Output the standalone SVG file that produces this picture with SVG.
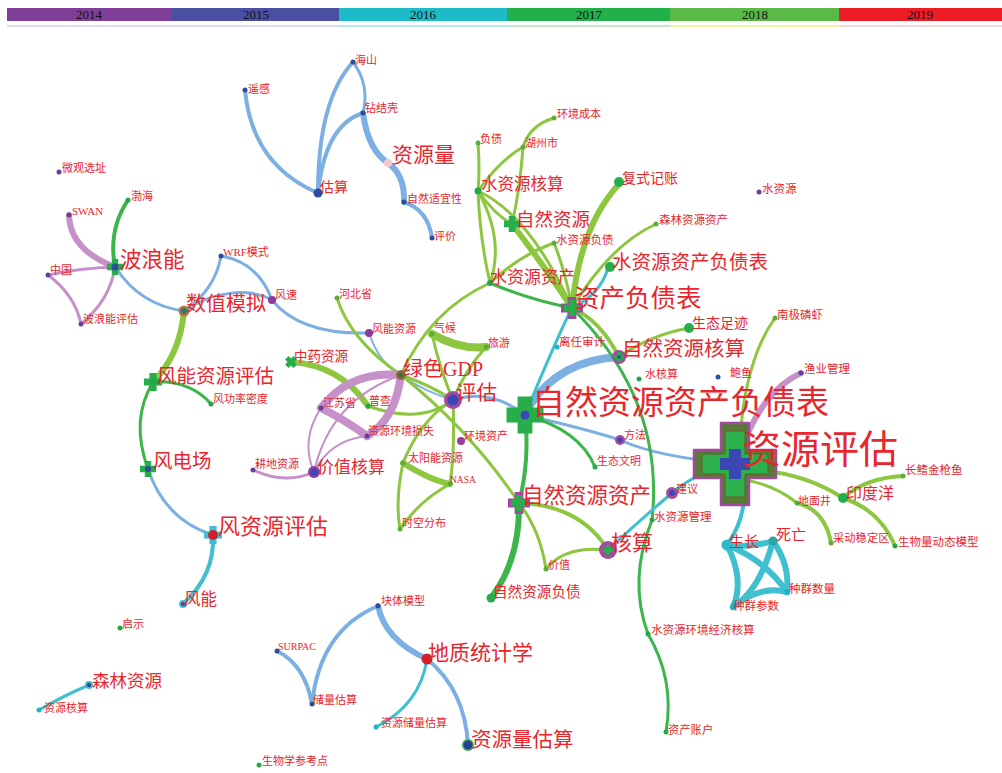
<svg xmlns="http://www.w3.org/2000/svg" xmlns:xlink="http://www.w3.org/1999/xlink" width="1002" height="773" viewBox="0 0 1002 773">
<style>
.t{font-family:"Liberation Serif","Noto Sans CJK SC",serif;fill:#e8262d}
.yr{font-family:"Liberation Serif",serif;font-size:13px;fill:#111;text-anchor:middle}
.e{fill:none;stroke-linecap:round}
.pu{stroke:#c690c9}.bl{stroke:#7db0e2}.cy{stroke:#40bfd0}.gr{stroke:#3cb54a}.lg{stroke:#8dc63f}
.w2{stroke-width:2}.w3{stroke-width:3}.w4{stroke-width:4}.w6{stroke-width:6}.w8{stroke-width:8}
.dp{fill:#6b3d9a}.db{fill:#2f4ba0}.dc{fill:#1fb5c5}.dg{fill:#22a84a}.dl{fill:#5aae3c}
</style>
<defs>
<path id="plus" d="M-0.4,-1H0.4V-0.4H1V0.4H0.4V1H-0.4V0.4H-1V-0.4H-0.4Z"/>
</defs>
<rect width="1002" height="773" fill="#fff"/>
<g id="timeline">
<rect x="7" y="8" width="165" height="13" fill="#7f3f98"/>
<rect x="172" y="8" width="167" height="13" fill="#4a4fa1"/>
<rect x="339" y="8" width="168" height="13" fill="#1fbac8"/>
<rect x="507" y="8" width="163" height="13" fill="#22b04b"/>
<rect x="670" y="8" width="169" height="13" fill="#5ab947"/>
<rect x="839" y="8" width="163" height="13" fill="#ee1c25"/>
<rect x="7" y="25" width="165" height="2" fill="#e6d8ee"/>
<rect x="172" y="25" width="167" height="2" fill="#dcdcf0"/>
<rect x="339" y="25" width="168" height="2" fill="#b6e8ef"/>
<rect x="507" y="25" width="163" height="2" fill="#c8e6cc"/>
<rect x="670" y="25" width="169" height="2" fill="#eef3a8"/>
<rect x="839" y="25" width="163" height="2" fill="#f9d6d6"/>
<text class="yr" x="89" y="19">2014</text>
<text class="yr" x="256" y="19">2015</text>
<text class="yr" x="423" y="19">2016</text>
<text class="yr" x="589" y="19">2017</text>
<text class="yr" x="755" y="19">2018</text>
<text class="yr" x="920" y="19">2019</text>
</g>
<g id="connectors">
<path class="e bl w4" d="M245,90 Q252,165 318,193"/>
<path class="e bl w4" d="M353,62 Q318,100 318,193"/>
<path class="e bl w3" d="M353,62 Q370,85 363,113"/>
<path class="e bl w4" d="M363,113 Q325,125 318,193"/>
<path class="e bl w6" d="M363,113 Q368,150 388,163"/>
<path class="e bl w6" d="M388,163 Q405,175 404,202"/>
<path class="e bl w4" d="M404,202 Q428,210 432,238"/>
<path class="e bl w3" d="M116,268 Q140,305 184,311"/>
<path class="e bl w3" d="M221,256 Q215,290 184,311"/>
<path class="e bl w3" d="M221,256 Q258,262 272,300"/>
<path class="e bl w3" d="M184,311 C215,290 250,288 272,300"/>
<path class="e bl w3" d="M272,300 Q300,335 369,333"/>
<path class="e bl w2" d="M369,333 Q380,365 401,375 Q425,392 453,400"/>
<path class="e bl w3" d="M453,400 Q490,388 525,415"/>
<path class="e bl w3" d="M525,415 Q590,430 620,440 Q660,458 733,463"/>
<path class="e bl w8" d="M619,357 Q560,360 530,405"/>
<path class="e cy w3" d="M572,308 Q558,335 525,415"/>
<path class="e cy w3" d="M608,268 Q600,295 572,308"/>
<path class="e lg w3" d="M478,143 Q480,170 478,191"/>
<path class="e lg w3" d="M523,147 Q530,125 554,118"/>
<path class="e lg w3" d="M523,147 Q500,160 478,191"/>
<path class="e lg w3" d="M523,147 Q520,190 512,224"/>
<path class="e lg w3" d="M478,191 Q495,215 512,224"/>
<path class="e lg w3" d="M478,191 Q530,215 572,308"/>
<path class="e lg w3" d="M478,191 Q480,240 490,283"/>
<path class="e lg w3" d="M478,191 Q505,240 490,283"/>
<path class="e lg w6" d="M512,224 Q540,260 572,308"/>
<path class="e lg w3" d="M554,243 Q520,255 490,283"/>
<path class="e lg w3" d="M554,243 Q565,270 572,308"/>
<path class="e lg w6" d="M620,183 Q580,225 572,308"/>
<path class="e lg w3" d="M656,224 Q610,245 572,308"/>
<path class="e gr w3" d="M490,283 Q530,300 572,308"/>
<path class="e lg w3" d="M490,283 Q430,310 401,375"/>
<path class="e gr w3" d="M572,308 Q665,400 652,520"/>
<path class="e gr w3" d="M652,520 Q628,580 648,634"/>
<path class="e gr w3" d="M648,634 Q675,680 666,732"/>
<path class="e lg w4" d="M572,308 Q600,320 619,357"/>
<path class="e lg w3" d="M619,357 Q650,335 689,328"/>
<path class="e lg w3" d="M740,440 Q745,360 775,318"/>
<path class="e pu w6" d="M745,440 Q765,390 801,373"/>
<path class="e cy w3" d="M608,550 Q640,520 672,493"/>
<path class="e cy w3" d="M672,493 Q700,470 733,463"/>
<path class="e cy w4" d="M740,470 Q752,510 727,545"/>
<path class="e cy w6" d="M727,545 Q750,548 773,541"/>
<path class="e cy w6" d="M727,545 Q765,560 787,592"/>
<path class="e cy w6" d="M727,545 Q745,580 733,607"/>
<path class="e cy w6" d="M773,541 Q790,565 787,592"/>
<path class="e cy w6" d="M773,541 Q760,590 733,607"/>
<path class="e cy w6" d="M733,607 Q760,585 787,592"/>
<path class="e lg w4" d="M745,470 Q800,470 843,498"/>
<path class="e lg w4" d="M843,498 Q865,478 903,476"/>
<path class="e lg w4" d="M843,498 Q880,510 895,546"/>
<path class="e lg w3" d="M745,480 Q775,485 797,503"/>
<path class="e lg w4" d="M797,503 Q825,510 831,543"/>
<path class="e lg w3" d="M337,298 Q350,340 401,375"/>
<path class="e lg w8" d="M432,334 Q460,350 486,347"/>
<path class="e lg w3" d="M432,334 Q440,370 453,400"/>
<path class="e lg w3" d="M486,347 Q465,370 453,400"/>
<path class="e lg w6" d="M291,362 Q340,365 368,406"/>
<path class="e lg w3" d="M368,406 Q420,425 453,400"/>
<path class="e lg w3" d="M401,375 Q430,385 453,400"/>
<path class="e lg w3" d="M401,375 Q470,430 519,503"/>
<path class="e lg w3" d="M453,400 Q420,420 403,463"/>
<path class="e lg w6" d="M403,463 Q430,480 450,484"/>
<path class="e lg w3" d="M403,463 Q395,500 400,529"/>
<path class="e lg w3" d="M450,484 Q420,500 400,529"/>
<path class="e lg w3" d="M453,400 Q455,450 450,484"/>
<path class="e pu w8" d="M401,375 Q350,370 321,408"/>
<path class="e pu w8" d="M401,375 Q395,420 367,436"/>
<path class="e pu w8" d="M321,408 Q345,420 367,436"/>
<path class="e pu w2" d="M321,408 Q300,440 314,472"/>
<path class="e pu w2" d="M401,375 Q330,400 314,472"/>
<path class="e pu w2" d="M367,436 Q330,440 314,472"/>
<path class="e pu w3" d="M253,470 Q285,485 314,472"/>
<path class="e pu w6" d="M69,215 Q70,250 115,267"/>
<path class="e pu w3" d="M48,275 Q80,268 115,267"/>
<path class="e pu w3" d="M48,275 Q75,295 81,324"/>
<path class="e pu w3" d="M81,324 Q110,300 115,267"/>
<path class="e gr w4" d="M128,200 Q108,230 115,267"/>
<path class="e lg w6" d="M184,311 Q180,355 153,382"/>
<path class="e gr w3" d="M153,382 Q190,380 211,404"/>
<path class="e gr w3" d="M153,382 Q130,420 148,469"/>
<path class="e bl w3" d="M148,469 Q165,520 213,535"/>
<path class="e cy w4" d="M213,535 Q215,575 183,604"/>
<path class="e cy w3" d="M89,685 Q65,695 39,710"/>
<path class="e bl w4" d="M378,606 Q320,630 312,704"/>
<path class="e bl w4" d="M277,651 Q305,665 312,704"/>
<path class="e bl w6" d="M378,606 Q385,640 427,659"/>
<path class="e cy w3" d="M427,659 Q420,705 376,727"/>
<path class="e bl w4" d="M427,659 Q465,690 468,745"/>
<path class="e gr w3" d="M525,415 Q580,430 595,467"/>
<path class="e gr w4" d="M525,415 Q530,460 519,503"/>
<path class="e gr w6" d="M519,503 Q520,560 491,598"/>
<path class="e lg w3" d="M519,503 Q540,530 546,569"/>
<path class="e lg w3" d="M546,569 Q565,545 608,550"/>
<path class="e lg w4" d="M519,503 Q580,505 608,550"/>
</g>
<g id="n-yaogan"><circle class="db" cx="245" cy="90" r="2.5"/><text class="t" x="248" y="93" font-size="11">遥感</text></g>
<g id="n-haishan"><circle class="db" cx="353" cy="62" r="2.5"/><text class="t" x="355" y="64" font-size="11">海山</text></g>
<g id="n-zuanjieke"><circle class="db" cx="363" cy="113" r="2.5"/><text class="t" x="365" y="112" font-size="11">钻结壳</text></g>
<g id="n-ziyuanliang"><circle cx="388" cy="163" r="4" fill="#f4c6cc"/><text class="t" x="392" y="162" font-size="21">资源量</text></g>
<g id="n-gusuan"><circle class="db" cx="318" cy="193" r="4.5"/><text class="t" x="320" y="192" font-size="14">估算</text></g>
<g id="n-shiyixing"><circle class="db" cx="404" cy="202" r="2.5"/><text class="t" x="407" y="203" font-size="11">自然适宜性</text></g>
<g id="n-pingjia"><circle class="db" cx="432" cy="238" r="2.5"/><text class="t" x="434" y="240" font-size="11">评价</text></g>
<g id="n-weiguan"><circle class="dp" cx="59" cy="172" r="2.5"/><text class="t" x="62" y="172" font-size="11">微观选址</text></g>
<g id="n-bohai"><circle class="dg" cx="128" cy="200" r="2.5"/><text class="t" x="131" y="200" font-size="11">渤海</text></g>
<g id="n-swan"><circle class="dp" cx="69" cy="215" r="2.5"/><text class="t" x="72" y="215" font-size="11">SWAN</text></g>
<g id="n-bolangneng"><use href="#plus" transform="translate(115,267) scale(8)" fill="#27ad4a"/><circle class="db" cx="115" cy="267" r="3.5"/><text class="t" x="120" y="267" font-size="21.5">波浪能</text></g>
<g id="n-zhongguo"><circle class="dp" cx="48" cy="275" r="2.5"/><text class="t" x="50" y="274" font-size="11">中国</text></g>
<g id="n-blnpg"><circle class="dp" cx="81" cy="324" r="2.5"/><text class="t" x="83" y="323" font-size="11">波浪能评估</text></g>
<g id="n-wrf"><circle class="db" cx="221" cy="256" r="2.5"/><text class="t" x="223" y="256" font-size="11">WRF模式</text></g>
<g id="n-shuzhi"><circle cx="184" cy="311" r="5.5" fill="#b07a3a"/><circle cx="184" cy="311" r="3" fill="#2a7a7a"/><text class="t" x="186" y="311" font-size="20">数值模拟</text></g>
<g id="n-fengsu"><circle cx="272" cy="300" r="4" fill="#8a3d9a"/><text class="t" x="275" y="299" font-size="11">风速</text></g>
<g id="n-hebei"><circle class="dl" cx="337" cy="298" r="2.5"/><text class="t" x="339" y="298" font-size="11">河北省</text></g>
<g id="n-fnzy"><circle cx="369" cy="333" r="4" fill="#8a3d9a"/><text class="t" x="372" y="333" font-size="11">风能资源</text></g>
<g id="n-zhongyao"><use href="#plus" transform="translate(291,362) scale(6) rotate(45)" fill="#27ad4a"/><text class="t" x="294" y="361" font-size="13.5">中药资源</text></g>
<g id="n-qihou"><circle class="dl" cx="432" cy="334" r="2.5"/><text class="t" x="434" y="332" font-size="11">气候</text></g>
<g id="n-lvyou"><circle class="dl" cx="486" cy="347" r="2.5"/><text class="t" x="488" y="347" font-size="11">旅游</text></g>
<g id="n-lvsegdp"><circle cx="401" cy="375" r="5" fill="#8a6a3a"/><circle cx="401" cy="375" r="2.5" fill="#3a6e3a"/><text class="t" x="403" y="376" font-size="20">绿色GDP</text></g>
<g id="n-pinggu"><circle cx="453" cy="400" r="9" fill="#a24a9e"/><circle cx="453" cy="400" r="5.5" fill="#3a47b5"/><text class="t" x="456" y="400" font-size="20.5">评估</text></g>
<g id="n-jiangsu"><circle class="dp" cx="321" cy="408" r="2.5"/><text class="t" x="323" y="407" font-size="11">江苏省</text></g>
<g id="n-pucha"><circle class="dg" cx="368" cy="406" r="2.5"/><text class="t" x="369" y="405" font-size="11">普查</text></g>
<g id="n-sunshi"><circle class="dp" cx="367" cy="436" r="2.5"/><text class="t" x="368" y="435" font-size="11">资源环境损失</text></g>
<g id="n-hjzc"><circle cx="461" cy="441" r="4" fill="#9a3d9a"/><text class="t" x="464" y="440" font-size="11">环境资产</text></g>
<g id="n-gengdi"><circle class="dp" cx="253" cy="470" r="2.5"/><text class="t" x="255" y="468" font-size="11">耕地资源</text></g>
<g id="n-jiazhihs"><circle cx="314" cy="472" r="6" fill="#8a3d9a"/><circle cx="314" cy="472" r="3.5" fill="#3a47b5"/><text class="t" x="317" y="473" font-size="17">价值核算</text></g>
<g id="n-taiyang"><circle class="dl" cx="403" cy="463" r="2.5"/><text class="t" x="408" y="462" font-size="11">太阳能资源</text></g>
<g id="n-nasa"><circle class="dl" cx="450" cy="484" r="2.5"/><text class="t" x="450" y="483" font-size="9.5">NASA</text></g>
<g id="n-shikong"><circle class="dl" cx="400" cy="529" r="2.5"/><text class="t" x="402" y="527" font-size="11">时空分布</text></g>
<g id="n-fnzypg"><use href="#plus" transform="translate(153,382) scale(9)" fill="#27ad4a"/><circle class="dg" cx="153" cy="382" r="3"/><text class="t" x="157" y="383" font-size="19.5">风能资源评估</text></g>
<g id="n-fglmd"><circle class="dg" cx="211" cy="404" r="2.5"/><text class="t" x="213" y="403" font-size="11">风功率密度</text></g>
<g id="n-fengdian"><use href="#plus" transform="translate(148,469) scale(8)" fill="#27ad4a"/><circle class="db" cx="148" cy="469" r="3"/><text class="t" x="153" y="468" font-size="19.5">风电场</text></g>
<g id="n-fzypg"><use href="#plus" transform="translate(213,535) scale(9)" fill="#40bfd0"/><circle cx="213" cy="535" r="5" fill="#d0202a"/><text class="t" x="218" y="534" font-size="22">风资源评估</text></g>
<g id="n-fengneng"><circle cx="183" cy="604" r="4" fill="#40bfd0"/><circle cx="183" cy="604" r="2.2" fill="#6b3d9a"/><text class="t" x="184" y="605" font-size="16.5">风能</text></g>
<g id="n-qishi"><circle class="dg" cx="120" cy="628" r="2.5"/><text class="t" x="122" y="628" font-size="11">启示</text></g>
<g id="n-senlin"><circle cx="89" cy="685" r="4" fill="#40bfd0"/><circle cx="89" cy="685" r="2.2" fill="#4a3d9a"/><text class="t" x="92" y="687" font-size="17.5">森林资源</text></g>
<g id="n-zyhs"><circle class="dc" cx="39" cy="710" r="2.5"/><text class="t" x="44" y="712" font-size="11">资源核算</text></g>
<g id="n-kuaiti"><circle class="db" cx="378" cy="606" r="2.5"/><text class="t" x="381" y="605" font-size="11">块体模型</text></g>
<g id="n-surpac"><circle class="db" cx="277" cy="651" r="2.5"/><text class="t" x="278" y="650" font-size="10">SURPAC</text></g>
<g id="n-chuliang"><circle class="db" cx="312" cy="704" r="2.5"/><text class="t" x="313" y="704" font-size="11">储量估算</text></g>
<g id="n-dizhi"><circle cx="427" cy="659" r="5.5" fill="#d0202a"/><text class="t" x="428" y="660" font-size="21">地质统计学</text></g>
<g id="n-zyclgs"><circle class="dc" cx="376" cy="727" r="2.5"/><text class="t" x="381" y="727" font-size="11">资源储量估算</text></g>
<g id="n-zylgs"><circle cx="468" cy="745" r="6" fill="#3cb54a"/><circle cx="468" cy="745" r="4.5" fill="#2a3f9a"/><text class="t" x="471" y="747" font-size="20.5">资源量估算</text></g>
<g id="n-shengwuxue"><circle class="dg" cx="259" cy="765" r="2.5"/><text class="t" x="262" y="765" font-size="11">生物学参考点</text></g>
<g id="n-fuzhai"><circle class="dl" cx="478" cy="143" r="2.5"/><text class="t" x="480" y="143" font-size="11">负债</text></g>
<g id="n-hjcb"><circle class="dl" cx="554" cy="118" r="2.5"/><text class="t" x="557" y="118" font-size="11">环境成本</text></g>
<g id="n-huzhou"><circle class="dl" cx="523" cy="147" r="2.5"/><text class="t" x="525" y="147" font-size="11">湖州市</text></g>
<g id="n-szyhs"><circle class="dg" cx="478" cy="191" r="3.5"/><text class="t" x="481" y="190" font-size="16.5">水资源核算</text></g>
<g id="n-zrzy"><use href="#plus" transform="translate(512,224) scale(8)" fill="#27ad4a"/><text class="t" x="516" y="226" font-size="18.5">自然资源</text></g>
<g id="n-fushi"><circle cx="619" cy="182" r="5" fill="#27ad4a"/><text class="t" x="622" y="183" font-size="14">复式记账</text></g>
<g id="n-slzyzc"><circle class="dl" cx="656" cy="224" r="2.5"/><text class="t" x="659" y="224" font-size="11.5">森林资源资产</text></g>
<g id="n-szyfz"><circle class="dl" cx="554" cy="243" r="2.5"/><text class="t" x="556" y="244" font-size="11.5">水资源负债</text></g>
<g id="n-szyzc"><circle class="dg" cx="490" cy="283" r="3"/><text class="t" x="490" y="283" font-size="17">水资源资产</text></g>
<g id="n-szyzcfzb"><circle cx="610" cy="267" r="5" fill="#27ad4a"/><text class="t" x="612" y="269" font-size="19.5">水资源资产负债表</text></g>
<g id="n-shuiziyuan"><circle class="dp" cx="759" cy="192" r="2.5"/><text class="t" x="762" y="193" font-size="11.5">水资源</text></g>
<g id="n-zcfzb"><use href="#plus" transform="translate(572,308) scale(11)" fill="#a24a9e"/><use href="#plus" transform="translate(572,308) scale(8)" fill="#27ad4a"/><text class="t" x="574" y="307" font-size="25.5">资产负债表</text></g>
<g id="n-liren"><circle class="dc" cx="557" cy="347" r="2.5"/><text class="t" x="559" y="346" font-size="11.5">离任审计</text></g>
<g id="n-shengtai"><circle cx="689" cy="328" r="5" fill="#27ad4a"/><text class="t" x="692" y="328" font-size="14">生态足迹</text></g>
<g id="n-zrzyhs"><circle cx="619" cy="357" r="7" fill="#a24a9e"/><use href="#plus" transform="translate(619,357) scale(5)" fill="#27ad4a"/><circle class="db" cx="619" cy="357" r="1.8"/><text class="t" x="622" y="356" font-size="20.5">自然资源核算</text></g>
<g id="n-shuihs"><circle class="dg" cx="639" cy="379" r="2.5"/><text class="t" x="645" y="378" font-size="11">水核算</text></g>
<g id="n-nanji"><circle class="dl" cx="775" cy="318" r="2.5"/><text class="t" x="777" y="319" font-size="11.5">南极磷虾</text></g>
<g id="n-yuye"><circle class="dp" cx="801" cy="373" r="2.5"/><text class="t" x="804" y="373" font-size="11.5">渔业管理</text></g>
<g id="n-baoyu"><circle class="db" cx="718" cy="377" r="2.5"/><text class="t" x="730" y="377" font-size="11">鲍鱼</text></g>
<g id="n-zrzyzcfzb"><use href="#plus" transform="translate(525,415) scale(18.5)" fill="#27ad4a"/><circle cx="525" cy="415" r="4.5" fill="#3a47b5"/><text class="t" x="532" y="414" font-size="33">自然资源资产负债表</text></g>
<g id="n-fangfa"><circle cx="620" cy="440" r="5" fill="#a24a9e"/><circle cx="620" cy="440" r="2.5" fill="#3a47b5"/><text class="t" x="624" y="439" font-size="11">方法</text></g>
<g id="n-stwm"><circle class="dg" cx="595" cy="467" r="2.5"/><text class="t" x="597" y="465" font-size="11">生态文明</text></g>
<g id="n-zypg"><path d="M721,423H749V450H776V478H749V505H721V478H694V450H721Z" fill="#567b34" stroke="#a24a9e" stroke-width="2.5" stroke-linejoin="round"/><path d="M725,431H745V454H768V474H745V497H725V474H702V454H725Z" fill="#2bb04c" stroke="#6e5a2a" stroke-width="1"/><path d="M729,449H741V458H750V470H741V479H729V470H720V458H729Z" fill="#3a47b5"/><text class="t" x="742" y="463" font-size="39">资源评估</text></g>
<g id="n-changqi"><circle class="dl" cx="903" cy="476" r="2.5"/><text class="t" x="905" y="474" font-size="11.5">长鳍金枪鱼</text></g>
<g id="n-yinduyang"><circle cx="843" cy="498" r="5" fill="#27ad4a"/><text class="t" x="846" y="499" font-size="16">印度洋</text></g>
<g id="n-dimianjing"><circle class="dl" cx="797" cy="503" r="2.5"/><text class="t" x="798" y="505" font-size="11">地面井</text></g>
<g id="n-jianyi"><circle cx="672" cy="493" r="6" fill="#a24a9e"/><circle cx="672" cy="493" r="3" fill="#3a47b5"/><text class="t" x="676" y="493" font-size="11">建议</text></g>
<g id="n-zrzyzc"><use href="#plus" transform="translate(519,503) scale(11)" fill="#a24a9e"/><use href="#plus" transform="translate(519,503) scale(8)" fill="#27ad4a"/><text class="t" x="522" y="503" font-size="21.5">自然资源资产</text></g>
<g id="n-hesuan"><circle cx="608" cy="550" r="9" fill="#a24a9e"/><use href="#plus" transform="translate(608,550) scale(5)" fill="#27ad4a"/><text class="t" x="611" y="550" font-size="21">核算</text></g>
<g id="n-szygl"><circle class="dg" cx="652" cy="520" r="2.5"/><text class="t" x="654" y="521" font-size="11.5">水资源管理</text></g>
<g id="n-jiazhi"><circle class="dl" cx="546" cy="569" r="2.5"/><text class="t" x="548" y="569" font-size="11">价值</text></g>
<g id="n-zrzyfz"><circle cx="491" cy="598" r="4.5" fill="#27ad4a"/><text class="t" x="493" y="597" font-size="14.6">自然资源负债</text></g>
<g id="n-shengzhang"><circle cx="727" cy="545" r="5.5" fill="#30b8c8"/><text class="t" x="729" y="547" font-size="15">生长</text></g>
<g id="n-siwang"><circle cx="773" cy="541" r="4.5" fill="#2aa7a0"/><text class="t" x="776" y="540" font-size="15">死亡</text></g>
<g id="n-caidong"><circle class="dl" cx="831" cy="543" r="2.5"/><text class="t" x="833" y="542" font-size="11.3">采动稳定区</text></g>
<g id="n-swldt"><circle class="dg" cx="895" cy="546" r="2.5"/><text class="t" x="898" y="546" font-size="11.5">生物量动态模型</text></g>
<g id="n-zqsl"><circle class="dc" cx="787" cy="592" r="3"/><text class="t" x="789" y="593" font-size="11.5">种群数量</text></g>
<g id="n-zqcs"><circle class="dc" cx="733" cy="607" r="3"/><text class="t" x="733" y="610" font-size="11.5">种群参数</text></g>
<g id="n-szyhjjj"><circle class="dg" cx="648" cy="634" r="2.5"/><text class="t" x="651" y="634" font-size="11.5">水资源环境经济核算</text></g>
<g id="n-zczh"><circle class="dg" cx="666" cy="732" r="2.5"/><text class="t" x="668" y="734" font-size="11.3">资产账户</text></g>
</svg>
